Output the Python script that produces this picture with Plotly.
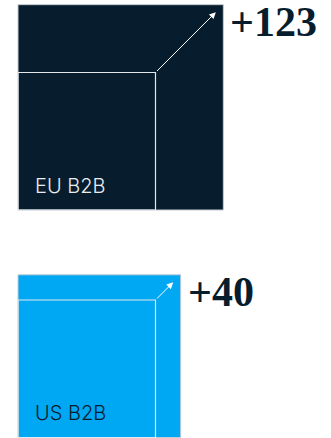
import math
import plotly.graph_objects as go

# ---- data ----
regions = ["EU B2B", "US B2B"]
growth = [123, 40]            # growth index vs. base 100
base_value = 100
value_labels = ["+123", "+40"]
fill_colors = ["#071c2c", "#00a8f3"]
label_colors = ["#e9edf0", "#071c2c"]

# ---- layout constants (pixels) ----
W, H = 331, 438
U = 137.5            # pixel size of base square side
X0 = 18.0            # left pixel of squares
BASELINES_PX = [210.0, 437.5]   # bottom pixel of each square group

def px_to_y(p):
    return (BASELINES_PX[1] - p) / U

fig = go.Figure()
fig.add_trace(go.Scatter(x=[], y=[], mode="markers", showlegend=False, hoverinfo="skip"))

shapes = []
annotations = []
for i, name in enumerate(regions):
    side = math.sqrt((base_value + growth[i]) / base_value)   # in base units
    b = px_to_y(BASELINES_PX[i])
    # outer square
    shapes.append(dict(type="rect", xref="x", yref="y", x0=0, x1=side, y0=b, y1=b + side,
                       fillcolor=fill_colors[i], line=dict(color="#c4ccd2", width=1), layer="below"))
    # base square outline
    shapes.append(dict(type="rect", xref="x", yref="y", x0=0, x1=1, y0=b, y1=b + 1,
                       fillcolor="rgba(0,0,0,0)", line=dict(color="#e4e8eb", width=1.2)))
    # arrow from base corner to grown corner
    inset = 7.5 / U
    annotations.append(dict(x=side - inset, y=b + side - inset, ax=1, ay=b + 1,
                            xref="x", yref="y", axref="x", ayref="y", text="",
                            showarrow=True, arrowhead=2, arrowsize=1.3, arrowwidth=1,
                            arrowcolor="#ffffff", standoff=0, startstandoff=0))
    # value label
    annotations.append(dict(x=side, y=b + side, xref="x", yref="y", text="<b>%s</b>" % value_labels[i],
                            showarrow=False, xanchor="left", yanchor="middle",
                            xshift=6, yshift=-17, borderpad=0,
                            font=dict(family="Liberation Serif", size=42, color="#071c2c")))
    # category label
    annotations.append(dict(x=0.01, y=b + 0.01, xref="x", yref="y", text=name, showarrow=False,
                            xanchor="left", yanchor="middle", xshift=14, yshift=23,
                            font=dict(family="Inter", size=20, weight=300, color=label_colors[i])))

fig.update_layout(
    width=W, height=H,
    margin=dict(l=0, r=0, t=0, b=0),
    paper_bgcolor="white", plot_bgcolor="white",
    shapes=shapes, annotations=annotations,
    showlegend=False,
    xaxis=dict(range=[-X0 / U, (W - X0) / U], visible=False, fixedrange=True),
    yaxis=dict(range=[px_to_y(H), px_to_y(0)], visible=False, fixedrange=True),
)

fig.write_html("out.html", config={"displayModeBar": False})
